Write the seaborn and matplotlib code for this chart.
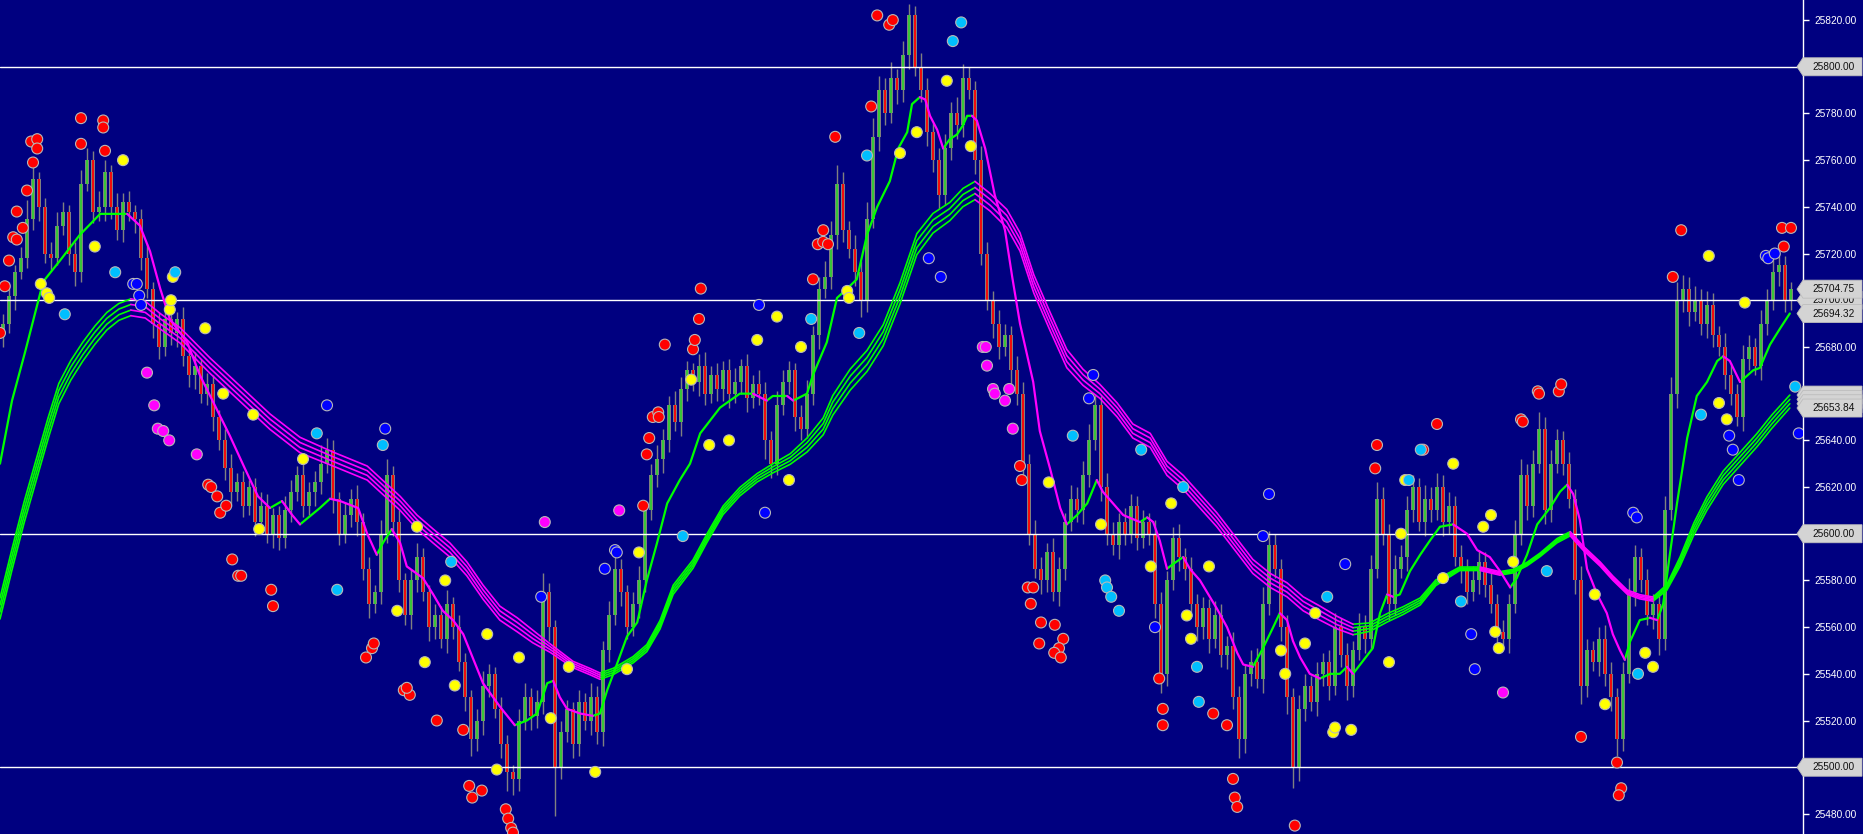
import numpy as np
import pandas as pd
import seaborn as sns
import matplotlib
matplotlib.use("Agg")
import matplotlib.pyplot as plt
from matplotlib.patches import Polygon

# ---- price data (one candle per entry) ----
first_open = 25685
closes = [
    25690, 25702, 25712, 25718, 25735, 25752, 25740, 25720, 25718, 25732,
    25738, 25720, 25712, 25750, 25760, 25738, 25740, 25755, 25740, 25730,
    25742, 25738, 25735, 25718, 25705, 25690, 25680, 25692, 25686, 25692,
    25676, 25668, 25672, 25660, 25664, 25650, 25640, 25628, 25618, 25622,
    25612, 25620, 25605, 25612, 25600, 25608, 25598, 25610, 25618, 25625,
    25612, 25618, 25622, 25630, 25636, 25615, 25600, 25608, 25615, 25605,
    25585, 25570, 25575, 25600, 25625, 25605, 25580, 25565, 25580, 25590,
    25575, 25560, 25565, 25555, 25570, 25560, 25545, 25530, 25512, 25520,
    25535, 25540, 25525, 25510, 25498, 25495, 25520, 25530, 25522, 25528,
    25575, 25560, 25500, 25515, 25525, 25510, 25528, 25520, 25530, 25515,
    25550, 25565, 25585, 25575, 25560, 25570, 25580, 25610, 25625, 25632,
    25640, 25655, 25648, 25662, 25670, 25665, 25672, 25660, 25668, 25662,
    25670, 25660, 25665, 25672, 25658, 25664, 25660, 25640, 25630, 25655,
    25665, 25670, 25650, 25645, 25660, 25685, 25705, 25710, 25728, 25750,
    25730, 25722, 25712, 25700, 25735, 25770, 25790, 25780, 25795, 25790,
    25805, 25822, 25800, 25790, 25772, 25760, 25745, 25765, 25780, 25775,
    25795, 25790, 25760, 25720, 25700, 25690, 25680, 25685, 25670, 25660,
    25630, 25600, 25585, 25580, 25592, 25575, 25585, 25605, 25615, 25610,
    25625, 25640, 25655, 25620, 25600, 25595, 25605, 25600, 25612, 25598,
    25605, 25600, 25570, 25540, 25580, 25598, 25590, 25585, 25570, 25560,
    25568, 25555, 25565, 25548, 25552, 25530, 25512, 25540, 25545, 25538,
    25570, 25595, 25585, 25560, 25530, 25500, 25525, 25535, 25528, 25540,
    25545, 25535, 25560, 25548, 25535, 25550, 25560, 25555, 25585, 25615,
    25600, 25570, 25585, 25590, 25610, 25620, 25605, 25615, 25610, 25620,
    25605, 25612, 25590, 25585, 25575, 25580, 25588, 25578, 25570, 25558,
    25555, 25570, 25600, 25625, 25612, 25630, 25645, 25610, 25630, 25640,
    25630, 25615, 25580, 25535, 25550, 25545, 25555, 25540, 25530, 25512,
    25540, 25575, 25590, 25580, 25565, 25570, 25555, 25610, 25660, 25700,
    25705, 25695, 25700, 25690, 25698, 25685, 25680, 25668, 25660, 25650,
    25675, 25680, 25672, 25690, 25700, 25712, 25715, 25700, 25704.75,
]
wick_up = [
    4, 6, 3, 5, 8, 6, 3, 4, 5, 6,  4, 3, 5, 6, 5, 4, 7, 5, 3, 6,
    4, 5, 3, 4, 6, 3, 5, 4, 6, 3,  5, 4, 6, 3, 5, 4, 3, 5, 6, 4,
    5, 3, 4, 6, 5, 3, 4, 6, 5, 4,  6, 4, 5, 8, 5, 4, 3, 5, 4, 6,
    4, 5, 3, 6, 7, 4, 5, 3, 5, 6,  4, 3, 5, 4, 6, 3, 5, 4, 3, 5,
    6, 4, 3, 5, 4, 3, 5, 6, 4, 5,  8, 4, 3, 5, 4, 3, 5, 4, 6, 5,
    4, 6, 5, 4, 3, 5, 6, 4, 5, 6,  5, 4, 6, 5, 4, 3, 5, 6, 4, 5,
    4, 5, 6, 3, 5, 4, 6, 5, 4, 6,  5, 4, 3, 5, 6, 4, 5, 7, 6, 8,
    5, 4, 6, 5, 7, 8, 6, 5, 7, 4,  6, 5, 4, 6, 5, 4, 5, 6, 5, 7,
    6, 5, 4, 6, 5, 4, 6, 5, 4, 6,  5, 4, 6, 5, 4, 6, 5, 4, 6, 5,
    6, 7, 5, 4, 6, 5, 4, 6, 5, 4,  5, 4, 6, 5, 4, 5, 6, 4, 5, 4,
    5, 4, 6, 5, 4, 6, 5, 4, 5, 6,  7, 6, 5, 4, 5, 4, 6, 5, 4, 5,
    4, 5, 6, 4, 5, 4, 6, 5, 6, 7,  5, 4, 6, 5, 6, 5, 4, 6, 5, 6,
    5, 6, 4, 5, 4, 6, 5, 4, 5, 4,  5, 4, 6, 7, 5, 6, 7, 5, 6, 5,
    4, 5, 4, 6, 5, 4, 5, 6, 5, 4,  5, 6, 5, 4, 5, 4, 5, 6, 7, 8,
    6, 5, 6, 5, 6, 5, 4, 6, 5, 4,  6, 5, 4, 6, 5, 6, 5, 4, 3,
]
wick_dn = [
    5, 4, 6, 3, 4, 5, 6, 4, 5, 3,  4, 5, 6, 4, 3, 5, 4, 6, 5, 4,
    5, 4, 6, 5, 4, 6, 5, 4, 5, 6,  4, 5, 6, 4, 5, 6, 4, 5, 6, 4,
    5, 4, 6, 5, 4, 6, 5, 4, 5, 4,  5, 4, 6, 5, 4, 6, 5, 4, 5, 6,
    5, 6, 4, 5, 4, 6, 5, 4, 6, 5,  4, 6, 5, 4, 6, 5, 4, 6, 7, 5,
    6, 5, 4, 6, 8, 7, 5, 4, 6, 5,  5, 6, 21, 5, 4, 6, 5, 4, 6, 5,
    6, 5, 4, 6, 5, 4, 6, 5, 4, 5,  6, 5, 4, 6, 5, 4, 6, 5, 4, 5,
    5, 6, 4, 5, 6, 4, 5, 8, 6, 5,  4, 5, 6, 5, 4, 5, 6, 4, 5, 6,
    5, 4, 6, 7, 5, 4, 6, 5, 4, 6,  5, 6, 4, 5, 6, 5, 6, 4, 5, 6,
    5, 4, 6, 5, 4, 6, 5, 4, 6, 5,  6, 5, 4, 6, 5, 4, 6, 5, 4, 5,
    6, 5, 4, 6, 5, 4, 6, 5, 4, 5,  4, 5, 6, 8, 5, 4, 6, 5, 4, 6,
    5, 6, 4, 5, 6, 5, 8, 6, 5, 4,  6, 5, 4, 6, 7, 9, 6, 5, 4, 6,
    5, 6, 4, 5, 6, 5, 4, 6, 5, 4,  5, 7, 5, 4, 6, 5, 4, 6, 5, 4,
    6, 5, 4, 6, 5, 4, 6, 5, 4, 6,  5, 6, 4, 5, 6, 5, 4, 6, 5, 4,
    5, 4, 6, 8, 5, 4, 6, 5, 6, 7,  5, 4, 6, 5, 4, 6, 7, 5, 4, 6,
    5, 6, 4, 5, 6, 5, 4, 6, 5, 4,  6, 5, 4, 6, 5, 4, 6, 5, 4,
]

# fast moving average: (candle index, value)
fast_ma = [
    (-0.5, 25630), (1.5, 25657), (3.7, 25678), (6.7, 25708), (9.5, 25717), (12.8, 25728),
    (16.2, 25737), (20.7, 25737), (22.8, 25732), (24.5, 25721), (26.2, 25705), (27.8, 25692),
    (30.7, 25682), (32.8, 25668), (35.3, 25655), (37.8, 25642), (40.3, 25628), (42.5, 25616),
    (44.5, 25611), (46.5, 25614), (48.2, 25608), (49.5, 25604), (52.8, 25611), (54.5, 25615),
    (56.2, 25614), (59.2, 25611), (60.7, 25600), (62.3, 25591), (63.3, 25596), (64.8, 25602),
    (66.2, 25596), (67.3, 25586), (70.0, 25581), (71.7, 25574), (73.3, 25567), (75.0, 25563),
    (76.7, 25557), (77.8, 25550), (80.0, 25536), (82.8, 25526), (85.3, 25518), (87.3, 25520),
    (89.0, 25523), (90.7, 25536), (91.7, 25537), (92.8, 25530), (94.0, 25525), (96.2, 25523),
    (98.3, 25522), (99.5, 25523), (100.7, 25533), (102.3, 25544), (104.0, 25556), (105.7, 25562),
    (107.3, 25580), (109.0, 25596), (110.7, 25613), (112.8, 25623), (114.5, 25630), (116.2, 25643),
    (119.5, 25654), (122.8, 25660), (125.0, 25660), (127.3, 25657), (128.3, 25659), (130.7, 25659),
    (131.7, 25657), (134.0, 25660), (135.0, 25668), (137.3, 25682), (139.0, 25701), (140.7, 25705),
    (142.3, 25709), (144.0, 25728), (145.7, 25740), (147.8, 25751), (149.2, 25765), (150.7, 25772),
    (151.5, 25784), (152.8, 25787), (153.7, 25786), (154.5, 25779), (155.7, 25773), (156.7, 25765),
    (157.8, 25769), (159.0, 25771), (160.0, 25775), (160.7, 25779), (161.5, 25779), (162.3, 25777),
    (163.7, 25765), (165.3, 25745), (167.0, 25730), (168.2, 25710), (169.5, 25690), (171.7, 25665),
    (172.8, 25644), (174.5, 25628), (176.2, 25611), (177.3, 25604), (179.0, 25608), (180.7, 25613),
    (182.3, 25623), (183.3, 25618), (185.0, 25613), (186.7, 25608), (189.5, 25605), (190.7, 25607),
    (191.7, 25605), (192.8, 25597), (194.0, 25585), (195.0, 25587), (196.7, 25590), (197.8, 25585),
    (199.5, 25580), (202.3, 25568), (204.0, 25560), (205.7, 25549), (206.7, 25544), (208.3, 25543),
    (210.0, 25551), (211.7, 25560), (212.8, 25566), (214.0, 25563), (215.0, 25554), (216.2, 25547),
    (217.8, 25540), (219.5, 25538), (221.2, 25540), (222.8, 25540), (224.0, 25543), (225.0, 25540),
    (226.2, 25544), (228.3, 25551), (229.5, 25566), (230.7, 25574), (231.7, 25573), (232.8, 25574),
    (234.5, 25584), (236.2, 25591), (237.8, 25597), (239.5, 25603), (241.7, 25604), (244.0, 25600),
    (245.7, 25593), (247.8, 25590), (249.5, 25584), (251.2, 25577), (252.3, 25581), (254.0, 25591),
    (255.7, 25604), (257.8, 25611), (259.5, 25618), (260.7, 25621), (261.7, 25617), (262.8, 25606),
    (264.0, 25585), (265.7, 25574), (267.3, 25566), (268.3, 25557), (269.5, 25550), (270.3, 25546),
    (271.2, 25554), (272.8, 25563), (274.5, 25564), (275.7, 25563), (276.7, 25570), (277.8, 25591),
    (279.0, 25613), (280.7, 25641), (282.3, 25659), (284.0, 25665), (285.7, 25674), (286.7, 25676),
    (287.8, 25674), (289.5, 25665), (291.7, 25670), (292.8, 25671), (294.5, 25681), (296.2, 25688),
    (297.8, 25694.32),
]

# slow ribbon: (candle index, centre value, gap between neighbouring lines)
ribbon = [
    (-0.5, 25568, 3.0), (1.5, 25589, 3.0), (3.5, 25609, 3.0), (5.5, 25627, 3.0), (7.5, 25645, 3.0),
    (9.3, 25660, 2.9), (11.3, 25670, 2.8), (13.3, 25678, 2.7), (15.3, 25685, 2.6), (17.3, 25691, 2.5),
    (19.3, 25695, 2.4), (21.3, 25697, 2.4), (23.7, 25696, 2.4), (26.2, 25691, 2.2), (29.5, 25685, 2.2),
    (34.5, 25672, 2.2), (39.5, 25660, 2.2), (44.5, 25648, 2.2), (49.5, 25638, 2.2), (55.0, 25632, 2.0),
    (60.7, 25626, 2.0), (66.2, 25613, 2.0), (69.0, 25605, 2.0), (71.7, 25599, 2.0), (74.5, 25593, 2.0),
    (77.3, 25585, 2.0), (80.0, 25575, 2.0), (82.8, 25566, 2.0), (85.7, 25561, 2.0), (88.3, 25556, 1.8),
    (91.2, 25551, 1.2), (95.0, 25544, 0.9), (97.8, 25541, 0.9), (99.5, 25539, 0.9), (101.7, 25541, 0.9),
    (105.0, 25546, 0.9), (107.3, 25551, 1.0), (109.5, 25561, 1.2), (111.7, 25576, 1.3), (115.0, 25587, 1.2),
    (117.3, 25598, 1.2), (120.0, 25610, 1.2), (122.8, 25618, 1.2), (125.7, 25624, 1.2), (128.3, 25628, 1.3),
    (131.2, 25632, 1.5), (134.0, 25638, 2.0), (136.7, 25646, 2.4), (138.3, 25655, 2.8), (141.2, 25666, 3.0),
    (144.0, 25674, 3.0), (146.7, 25685, 3.0), (149.5, 25703, 3.0), (152.3, 25724, 3.0), (155.0, 25733, 2.8),
    (157.8, 25738, 2.6), (160.0, 25744, 2.6), (162.0, 25747, 2.6), (164.5, 25742, 2.5), (167.3, 25735, 2.6),
    (169.5, 25725, 2.6), (171.8, 25707, 2.6), (174.5, 25691, 2.6), (177.3, 25675, 2.6), (180.0, 25667, 2.3),
    (182.8, 25661, 2.0), (185.7, 25653, 2.0), (188.3, 25644, 2.0), (191.2, 25640, 2.0), (194.0, 25628, 2.0),
    (196.7, 25622, 2.0), (199.5, 25614, 2.0), (202.3, 25606, 2.0), (205.0, 25597, 2.0), (208.3, 25586, 2.0),
    (211.2, 25580, 2.0), (214.0, 25576, 2.0), (216.7, 25570, 2.0), (219.5, 25566, 2.0), (222.3, 25562, 1.8),
    (225.0, 25559, 1.5), (227.8, 25560, 1.2), (230.7, 25564, 1.2), (233.3, 25567, 1.1), (236.2, 25571, 1.0),
    (238.8, 25579, 0.8), (242.8, 25585, 0.5), (246.2, 25585, 0.5), (249.5, 25583, 0.5), (251.7, 25584, 0.5),
    (254.0, 25587, 0.5), (256.2, 25591, 0.5), (259.0, 25597, 0.6), (261.2, 25600, 0.6), (263.3, 25594, 0.6),
    (266.2, 25587, 0.6), (268.3, 25581, 0.6), (270.7, 25575, 0.6), (272.8, 25573, 0.6), (275.0, 25572, 0.6),
    (277.3, 25577, 0.8), (279.5, 25588, 1.3), (281.8, 25602, 1.7), (284.0, 25613, 1.9), (286.7, 25624, 1.9),
    (289.5, 25632, 1.9), (292.3, 25640, 1.9), (294.8, 25648, 1.9), (297.8, 25656.615, 1.85),
]

# signal dots: (candle index, price)
red_dots = [
    (-0.5, 25686), (0.3, 25706), (1.0, 25717), (1.7, 25727), (2.3, 25726), (2.3, 25738), (3.3, 25731),
    (4.0, 25747), (5.0, 25759), (4.7, 25768), (5.7, 25769), (5.7, 25765), (13.0, 25778), (13.0, 25767),
    (16.7, 25777), (16.7, 25774), (17.0, 25764), (34.2, 25621), (34.7, 25620), (35.7, 25616), (36.2, 25609),
    (37.2, 25612), (38.2, 25589), (39.2, 25582), (39.7, 25582), (44.7, 25576), (45.0, 25569), (60.5, 25547),
    (61.5, 25551), (61.8, 25553), (66.8, 25533), (67.8, 25531), (67.3, 25534), (72.3, 25520), (76.7, 25516),
    (77.7, 25492), (79.8, 25490), (78.2, 25487), (83.8, 25482), (84.2, 25478), (84.7, 25474), (85.0, 25472),
    (106.7, 25612), (107.3, 25634), (107.7, 25641), (108.3, 25650), (109.2, 25652), (109.3, 25650),
    (110.3, 25681), (115.0, 25679), (115.3, 25683), (116.0, 25692), (116.3, 25705), (135.0, 25709),
    (135.8, 25724), (136.7, 25725), (137.5, 25724), (136.7, 25730), (138.7, 25770), (144.7, 25783),
    (145.7, 25822), (147.7, 25818), (148.3, 25820), (169.5, 25629), (169.8, 25623), (170.8, 25577),
    (171.7, 25577), (171.3, 25570), (173.0, 25562), (172.7, 25553), (175.3, 25561), (176.7, 25555),
    (176.0, 25551), (175.2, 25549), (176.3, 25547), (192.7, 25538), (193.3, 25525), (193.3, 25518),
    (201.7, 25523), (204.0, 25518), (205.0, 25495), (205.3, 25487), (205.7, 25483), (215.3, 25475),
    (228.7, 25628), (229.0, 25638), (236.7, 25636), (239.0, 25647), (253.0, 25649), (253.3, 25648),
    (255.8, 25661), (256.0, 25660), (259.3, 25661), (259.7, 25664), (263.0, 25513), (269.0, 25502),
    (269.7, 25491), (269.3, 25488), (278.3, 25710), (279.7, 25730), (296.5, 25731), (296.8, 25723),
    (298.0, 25731),
]
yellow_dots = [
    (6.3, 25707), (7.3, 25703), (7.7, 25701), (15.3, 25723), (20.0, 25760), (27.8, 25696), (28.0, 25700),
    (28.3, 25710), (33.7, 25688), (36.7, 25660), (41.7, 25651), (42.7, 25602), (50.0, 25632), (65.7, 25567),
    (69.0, 25603), (70.3, 25545), (73.7, 25580), (75.3, 25535), (80.7, 25557), (82.3, 25499), (86.0, 25547),
    (91.3, 25521), (94.3, 25543), (98.7, 25498), (104.0, 25542), (106.0, 25592), (114.7, 25666),
    (117.7, 25638), (121.0, 25640), (125.7, 25683), (129.0, 25693), (131.0, 25623), (133.0, 25680),
    (140.7, 25704), (141.0, 25701), (149.5, 25763), (152.3, 25772), (157.3, 25794), (161.3, 25766),
    (174.3, 25622), (183.0, 25604), (191.3, 25586), (194.7, 25613), (197.3, 25565), (198.0, 25555),
    (201.0, 25586), (213.0, 25550), (213.7, 25540), (217.0, 25553), (218.7, 25566), (221.7, 25515),
    (222.0, 25517), (224.7, 25516), (231.0, 25545), (233.0, 25600), (233.7, 25623), (240.0, 25581),
    (241.7, 25630), (246.7, 25603), (248.0, 25608), (248.7, 25558), (249.3, 25551), (251.7, 25588),
    (265.3, 25574), (267.0, 25527), (273.7, 25549), (275.0, 25543), (284.3, 25719), (286.0, 25656),
    (287.3, 25649), (290.3, 25699),
]
cyan_dots = [
    (10.3, 25694), (18.7, 25712), (28.7, 25712), (52.3, 25643), (55.7, 25576), (63.3, 25638), (74.7, 25588),
    (113.3, 25599), (134.7, 25692), (142.7, 25686), (144.0, 25762), (158.3, 25811), (159.7, 25819),
    (178.3, 25642), (183.7, 25580), (184.0, 25577), (184.7, 25573), (186.0, 25567), (189.7, 25636),
    (196.7, 25620), (199.0, 25543), (199.3, 25528), (220.7, 25573), (234.3, 25623), (236.3, 25636),
    (243.0, 25571), (257.3, 25584), (272.5, 25540), (283.0, 25651), (298.7, 25663),
]
blue_dots = [
    (21.7, 25707), (22.3, 25707), (22.7, 25702), (23.0, 25698), (54.0, 25655), (63.7, 25645), (89.7, 25573),
    (100.3, 25585), (102.0, 25593), (102.3, 25592), (126.0, 25698), (127.0, 25609), (154.3, 25718),
    (156.3, 25710), (181.0, 25658), (181.7, 25668), (192.0, 25560), (210.0, 25599), (211.0, 25617),
    (223.7, 25587), (244.7, 25557), (245.3, 25542), (271.7, 25609), (272.3, 25607), (287.7, 25642),
    (288.3, 25636), (289.3, 25623), (293.8, 25719), (294.2, 25718), (295.3, 25720), (299.3, 25643),
]
magenta_dots = [
    (24.0, 25669), (25.2, 25655), (25.8, 25645), (26.7, 25644), (27.7, 25640), (32.3, 25634), (90.3, 25605),
    (102.7, 25610), (163.3, 25680), (163.8, 25680), (164.0, 25672), (165.0, 25662), (165.3, 25660),
    (167.0, 25657), (167.7, 25662), (168.3, 25645), (250.0, 25532),
]

levels = [25500, 25600, 25700, 25800]
y_ticks = list(range(25480, 25821, 20))

NAVY = "#000080"
UP, DOWN = "#00FF00", "#FF00FF"

sns.set_style("dark", {"axes.facecolor": NAVY, "figure.facecolor": NAVY})
plt.rcParams["font.family"] = ["Liberation Sans", "DejaVu Sans"]

W, H = 1863, 834
fig = plt.figure(figsize=(W / 100, H / 100), dpi=100)
ax = fig.add_axes([0, 0, 1803 / W, 1])
y0, y1 = 25471.4, 25828.6
ax.set_xlim(-0.5, 300)
ax.set_ylim(y0, y1)

# candles
n = len(closes)
idx = np.arange(n)
c = np.array(closes, dtype=float)
o = np.concatenate([[first_open], c[:-1]])
hi = np.maximum(o, c) + np.array(wick_up)
lo = np.minimum(o, c) - np.array(wick_dn)
ax.vlines(idx, lo, hi, color="#808080", lw=1, zorder=2)
ax.bar(idx, np.maximum(np.abs(c - o), 0.4), bottom=np.minimum(o, c), width=0.8,
       color="#808080", linewidth=0, zorder=2)
ax.vlines(idx, o, c, colors=np.where(c >= o, "#32CD32", "#FF0000"), lw=1.3, zorder=2.1)

# horizontal levels
for lv in levels:
    ax.axhline(lv, color="white", lw=1, zorder=2.5)


def colour_runs(xs, ys, ref, tag):
    rows, run, last = [], 0, None
    for k in range(1, len(xs)):
        d = "up" if ref[k] >= ref[k - 1] else "down"
        if d != last:
            run += 1
            last = d
            rows.append((xs[k - 1], ys[k - 1], f"{tag}-{run}", d))
        rows.append((xs[k], ys[k], f"{tag}-{run}", d))
    return rows


rx = [r[0] for r in ribbon]
rc = [r[1] for r in ribbon]
rg = [r[2] for r in ribbon]
rib_rows = []
ribbon_ends = []
for j, k in enumerate([1.5, 0.5, -0.5, -1.5]):
    ys = [cc + k * g for cc, g in zip(rc, rg)]
    ribbon_ends.append(ys[-1])
    rib_rows += colour_runs(rx, ys, rc, f"r{j}")
rib_df = pd.DataFrame(rib_rows, columns=["x", "y", "unit", "dir"])
sns.lineplot(data=rib_df, x="x", y="y", hue="dir", units="unit", estimator=None, sort=False,
             palette={"up": UP, "down": DOWN}, linewidth=1.2, legend=False, ax=ax, zorder=3)

fx = [p[0] for p in fast_ma]
fy = [p[1] for p in fast_ma]
fast_df = pd.DataFrame(colour_runs(fx, fy, fy, "f"), columns=["x", "y", "unit", "dir"])
sns.lineplot(data=fast_df, x="x", y="y", hue="dir", units="unit", estimator=None, sort=False,
             palette={"up": UP, "down": DOWN}, linewidth=1.6, legend=False, ax=ax, zorder=3.5)

# dots
frames = []
for name, pts in [("red", red_dots), ("yellow", yellow_dots), ("cyan", cyan_dots),
                  ("blue", blue_dots), ("magenta", magenta_dots)]:
    frames.append(pd.DataFrame(pts, columns=["x", "price"]).assign(kind=name))
dots = pd.concat(frames, ignore_index=True)
sns.scatterplot(data=dots, x="x", y="price", hue="kind", s=62, edgecolor="#B8B8B8", linewidth=0.8,
                palette={"red": "#FF0000", "yellow": "#FFFF00", "cyan": "#00BFFF",
                         "blue": "#0000FF", "magenta": "#FF00FF"},
                legend=False, ax=ax, zorder=5)

# price tags on the right scale: (value, show text)
tags = [(v, True) for v in levels]
tags += [(v, k == 3) for k, v in enumerate(ribbon_ends)]
tags += [(closes[-1], True), (fast_ma[-1][1], True)]

# tick labels hidden behind a tag are left blank
pts_per_px = (y1 - y0) / H
tick_text = []
for t in y_ticks:
    covered = any(abs(t - v) < 9 * pts_per_px for v, _ in tags)
    tick_text.append("" if covered else f"{t:.2f}")

ax.set_xlabel("")
ax.set_ylabel("")
ax.grid(False)
ax.set_xticks([])
ax.yaxis.tick_right()
ax.set_yticks(y_ticks)
ax.set_yticklabels(tick_text)
ax.tick_params(axis="y", colors="white", labelsize=7.3, length=4, width=1, pad=4, direction="out")
for s in ["left", "top", "bottom"]:
    ax.spines[s].set_visible(False)
ax.spines["right"].set_color("white")
ax.spines["right"].set_linewidth(1)

hh = 9 / H
for k, (v, show) in enumerate(tags):
    yf = (v - y0) / (y1 - y0)
    poly = Polygon([(1797 / W, yf), (1803 / W, yf + hh), (1862 / W, yf + hh),
                    (1862 / W, yf - hh), (1803 / W, yf - hh)], closed=True,
                   transform=fig.transFigure, facecolor="#D4D4D4", edgecolor="#BDBDBD",
                   linewidth=0.6, zorder=10 + 2 * k)
    fig.add_artist(poly)
    if show:
        fig.text(1812 / W, yf, f"{v:.2f}", ha="left", va="center", fontsize=7.3,
                 color="#111111", zorder=11 + 2 * k)

plt.savefig("out.png", dpi=100, facecolor=NAVY)
